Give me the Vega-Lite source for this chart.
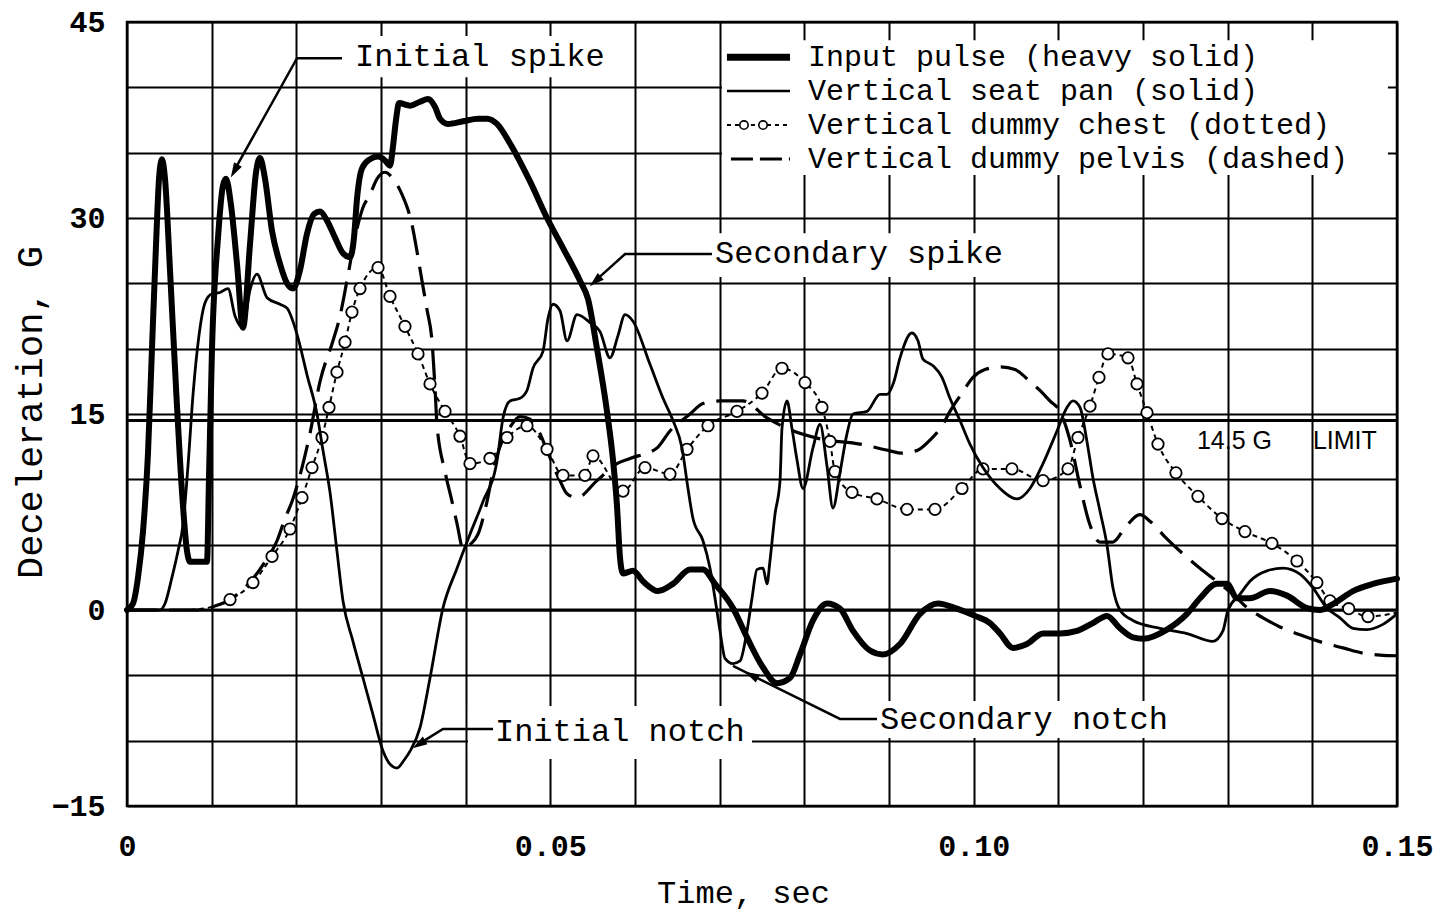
{
"$schema": "https://vega.github.io/schema/vega-lite/v6.json",
"width": 1270,
"height": 784,
"autosize": {"type": "none"},
"padding": {"left": 127, "top": 22, "right": 55, "bottom": 110},
"background": "white",
"config": {
  "view": {"stroke": "black", "strokeWidth": 2.5},
  "font": "Liberation Mono",
  "axis": {"grid": true, "gridColor": "black", "gridWidth": 2, "gridOpacity": 1, "domain": false, "ticks": false, "tickSize": 0,
    "labelFont": "Liberation Mono", "labelFontSize": 30, "labelFontWeight": "bold", "labelColor": "black",
    "titleFont": "Liberation Mono", "titleFontWeight": "normal", "titleColor": "black",
    "labelOverlap": false, "labelBound": false, "labelFlush": false}
},
"datasets": {
  "pulse": [{"t":0,"g":0},{"t":0.00071,"g":0.5},{"t":0.0013,"g":2.5},{"t":0.00189,"g":6},{"t":0.00248,"g":12},{"t":0.00295,"g":20},{"t":0.00343,"g":28},{"t":0.00378,"g":33},{"t":0.00413,"g":34.5},{"t":0.00449,"g":33},{"t":0.00508,"g":26},{"t":0.00579,"g":17},{"t":0.0065,"g":9},{"t":0.00709,"g":4.5},{"t":0.00744,"g":3.7},{"t":0.00945,"g":3.7},{"t":0.00968,"g":10},{"t":0.01004,"g":20},{"t":0.01075,"g":28.5},{"t":0.01134,"g":32.5},{"t":0.01169,"g":33},{"t":0.01228,"g":31},{"t":0.01299,"g":26.5},{"t":0.0137,"g":21.6},{"t":0.01453,"g":28},{"t":0.01524,"g":33.5},{"t":0.01571,"g":34.6},{"t":0.0163,"g":33},{"t":0.01713,"g":29},{"t":0.01807,"g":26.5},{"t":0.0189,"g":25},{"t":0.01961,"g":24.6},{"t":0.02043,"g":26},{"t":0.02126,"g":28.8},{"t":0.02209,"g":30.3},{"t":0.0228,"g":30.5},{"t":0.02362,"g":29.8},{"t":0.02457,"g":28.5},{"t":0.02551,"g":27.3},{"t":0.02634,"g":27},{"t":0.02681,"g":28.5},{"t":0.02717,"g":31.5},{"t":0.02776,"g":33.8},{"t":0.0287,"g":34.5},{"t":0.02965,"g":34.7},{"t":0.03047,"g":34.4},{"t":0.03106,"g":34},{"t":0.03142,"g":35.5},{"t":0.03177,"g":37.5},{"t":0.03213,"g":38.8},{"t":0.03343,"g":38.6},{"t":0.03461,"g":38.9},{"t":0.03555,"g":39.1},{"t":0.03638,"g":38.5},{"t":0.03697,"g":37.6},{"t":0.03791,"g":37.2},{"t":0.03969,"g":37.4},{"t":0.04146,"g":37.6},{"t":0.04252,"g":37.6},{"t":0.0437,"g":37.2},{"t":0.04524,"g":35.7},{"t":0.0476,"g":32.8},{"t":0.04961,"g":30},{"t":0.0515,"g":27.7},{"t":0.0535,"g":25.2},{"t":0.05445,"g":23.8},{"t":0.05551,"g":20},{"t":0.05669,"g":15.2},{"t":0.0574,"g":11.5},{"t":0.05787,"g":8},{"t":0.05823,"g":4},{"t":0.05858,"g":2.8},{"t":0.05976,"g":3},{"t":0.06094,"g":2.2},{"t":0.06272,"g":1.45},{"t":0.06449,"g":2},{"t":0.0665,"g":3.1},{"t":0.06803,"g":3.1},{"t":0.06945,"g":2},{"t":0.07157,"g":0.15},{"t":0.07323,"g":-2.1},{"t":0.07512,"g":-4.4},{"t":0.07677,"g":-5.6},{"t":0.07831,"g":-5.2},{"t":0.07949,"g":-3.4},{"t":0.08102,"g":-0.8},{"t":0.08268,"g":0.5},{"t":0.08421,"g":0.1},{"t":0.08575,"g":-1.6},{"t":0.08775,"g":-3.1},{"t":0.08929,"g":-3.4},{"t":0.0913,"g":-2.6},{"t":0.09366,"g":-0.3},{"t":0.09578,"g":0.5},{"t":0.09803,"g":0.1},{"t":0.10016,"g":-0.45},{"t":0.10193,"g":-1},{"t":0.10311,"g":-1.8},{"t":0.10464,"g":-2.9},{"t":0.1063,"g":-2.6},{"t":0.10819,"g":-1.8},{"t":0.11019,"g":-1.8},{"t":0.1122,"g":-1.6},{"t":0.11409,"g":-1},{"t":0.11574,"g":-0.45},{"t":0.11728,"g":-1.4},{"t":0.11881,"g":-2.1},{"t":0.12,"g":-2.2},{"t":0.12283,"g":-1.5},{"t":0.12519,"g":-0.3},{"t":0.12673,"g":0.9},{"t":0.12874,"g":2},{"t":0.12992,"g":2},{"t":0.1311,"g":0.9},{"t":0.13263,"g":0.9},{"t":0.135,"g":1.45},{"t":0.13701,"g":1.1},{"t":0.13937,"g":0.15},{"t":0.1409,"g":0},{"t":0.14243,"g":0.45},{"t":0.1448,"g":1.45},{"t":0.14716,"g":2},{"t":0.15,"g":2.4}],
  "seat": [{"t":0,"g":0},{"t":0.0039,"g":0},{"t":0.00449,"g":0.5},{"t":0.00531,"g":2.5},{"t":0.00602,"g":4.5},{"t":0.00661,"g":6.5},{"t":0.0072,"g":11},{"t":0.0078,"g":16.5},{"t":0.0085,"g":21},{"t":0.00921,"g":23.5},{"t":0.01004,"g":24.2},{"t":0.01098,"g":24.3},{"t":0.01193,"g":24.6},{"t":0.01276,"g":22.5},{"t":0.0137,"g":21.6},{"t":0.01453,"g":24.5},{"t":0.01535,"g":25.7},{"t":0.01654,"g":23.9},{"t":0.01807,"g":23.4},{"t":0.0189,"g":23.1},{"t":0.02008,"g":21.1},{"t":0.02126,"g":18},{"t":0.02244,"g":15},{"t":0.02315,"g":12.2},{"t":0.02398,"g":9},{"t":0.0248,"g":4.5},{"t":0.02551,"g":0.7},{"t":0.02669,"g":-2.4},{"t":0.02787,"g":-5.2},{"t":0.02905,"g":-8},{"t":0.03024,"g":-10.8},{"t":0.03106,"g":-11.8},{"t":0.03189,"g":-12.1},{"t":0.03272,"g":-11.5},{"t":0.03343,"g":-10.8},{"t":0.03461,"g":-9},{"t":0.03579,"g":-5.2},{"t":0.03732,"g":0.15},{"t":0.03898,"g":3.2},{"t":0.04051,"g":5.8},{"t":0.04205,"g":8.3},{"t":0.0437,"g":11.4},{"t":0.04441,"g":14.7},{"t":0.04524,"g":16},{"t":0.04642,"g":16.2},{"t":0.04724,"g":16.8},{"t":0.04795,"g":18.5},{"t":0.04913,"g":19.8},{"t":0.04972,"g":22.3},{"t":0.05031,"g":23.4},{"t":0.05114,"g":22.9},{"t":0.05197,"g":20.6},{"t":0.05315,"g":22.6},{"t":0.05468,"g":22},{"t":0.05587,"g":21.3},{"t":0.05705,"g":19.3},{"t":0.05799,"g":21},{"t":0.05882,"g":22.6},{"t":0.05976,"g":22.1},{"t":0.06177,"g":18.8},{"t":0.06331,"g":16.2},{"t":0.06449,"g":14.5},{"t":0.06555,"g":12.4},{"t":0.06626,"g":9.3},{"t":0.06685,"g":7},{"t":0.06803,"g":5.3},{"t":0.06886,"g":3.2},{"t":0.06945,"g":0.9},{"t":0.07004,"g":-1.6},{"t":0.07063,"g":-3.7},{"t":0.07157,"g":-4.1},{"t":0.0724,"g":-3.9},{"t":0.07323,"g":-1.6},{"t":0.07382,"g":0.9},{"t":0.07441,"g":3.1},{"t":0.07512,"g":3.2},{"t":0.07559,"g":2},{"t":0.07594,"g":3.75},{"t":0.07653,"g":7.3},{"t":0.07713,"g":9.9},{"t":0.07736,"g":13.9},{"t":0.07795,"g":16},{"t":0.07854,"g":13.9},{"t":0.07913,"g":11.5},{"t":0.07984,"g":9.3},{"t":0.08102,"g":12.4},{"t":0.08185,"g":14.2},{"t":0.08268,"g":11},{"t":0.08338,"g":7.8},{"t":0.08421,"g":10.5},{"t":0.08504,"g":13.5},{"t":0.08575,"g":15},{"t":0.0874,"g":15.2},{"t":0.08894,"g":16.5},{"t":0.08976,"g":16.5},{"t":0.09059,"g":17.5},{"t":0.0913,"g":19.3},{"t":0.09271,"g":21.2},{"t":0.09342,"g":20.6},{"t":0.09401,"g":19.2},{"t":0.09519,"g":18.7},{"t":0.09626,"g":17.8},{"t":0.0972,"g":16.2},{"t":0.09838,"g":14.5},{"t":0.09956,"g":12.7},{"t":0.1011,"g":10.9},{"t":0.10311,"g":9.3},{"t":0.10512,"g":8.5},{"t":0.10665,"g":9.3},{"t":0.10819,"g":11.2},{"t":0.10984,"g":13.7},{"t":0.11102,"g":15.5},{"t":0.11173,"g":16},{"t":0.11256,"g":15.5},{"t":0.11338,"g":12.9},{"t":0.11409,"g":10.1},{"t":0.11491,"g":7.6},{"t":0.11574,"g":5},{"t":0.11645,"g":1.7},{"t":0.11728,"g":0},{"t":0.11881,"g":-0.8},{"t":0.122,"g":-1.4},{"t":0.12519,"g":-1.8},{"t":0.12826,"g":-2.4},{"t":0.12944,"g":-1.6},{"t":0.13004,"g":0},{"t":0.13145,"g":1.2},{"t":0.13263,"g":2.2},{"t":0.13464,"g":3},{"t":0.13653,"g":3.2},{"t":0.13854,"g":2.75},{"t":0.14007,"g":1.7},{"t":0.14173,"g":0.15},{"t":0.14326,"g":-0.6},{"t":0.1448,"g":-1.4},{"t":0.14645,"g":-1.5},{"t":0.14834,"g":-1.1},{"t":0.15,"g":-0.3}],
  "chest": [{"t":0,"g":0},{"t":0.00685,"g":0},{"t":0.0098,"g":0.2},{"t":0.01217,"g":0.8},{"t":0.01488,"g":2.1},{"t":0.01713,"g":4.1},{"t":0.01925,"g":6.2},{"t":0.02067,"g":8.6},{"t":0.02185,"g":10.9},{"t":0.02303,"g":13.2},{"t":0.02386,"g":15.5},{"t":0.0248,"g":18.2},{"t":0.02575,"g":20.5},{"t":0.02657,"g":22.8},{"t":0.02752,"g":24.6},{"t":0.02965,"g":26.2},{"t":0.03106,"g":24},{"t":0.03283,"g":21.7},{"t":0.03437,"g":19.6},{"t":0.03579,"g":17.3},{"t":0.03756,"g":15.2},{"t":0.03933,"g":13.3},{"t":0.04051,"g":11.2},{"t":0.04287,"g":11.6},{"t":0.04488,"g":13.2},{"t":0.04724,"g":14.1},{"t":0.04961,"g":12.3},{"t":0.0515,"g":10.3},{"t":0.05409,"g":10.3},{"t":0.05504,"g":11.8},{"t":0.05858,"g":9.1},{"t":0.06118,"g":10.9},{"t":0.06413,"g":10.4},{"t":0.06614,"g":12.3},{"t":0.06862,"g":14.1},{"t":0.07204,"g":15.2},{"t":0.075,"g":16.6},{"t":0.07736,"g":18.5},{"t":0.08008,"g":17.4},{"t":0.08208,"g":15.5},{"t":0.08303,"g":12.9},{"t":0.08362,"g":10.6},{"t":0.08563,"g":9},{"t":0.08858,"g":8.5},{"t":0.09212,"g":7.7},{"t":0.09543,"g":7.7},{"t":0.09862,"g":9.3},{"t":0.1011,"g":10.8},{"t":0.10452,"g":10.8},{"t":0.10819,"g":9.9},{"t":0.11114,"g":10.8},{"t":0.11232,"g":13.2},{"t":0.11374,"g":15.6},{"t":0.1148,"g":17.8},{"t":0.11586,"g":19.6},{"t":0.11823,"g":19.3},{"t":0.11929,"g":17.3},{"t":0.12047,"g":15.1},{"t":0.12177,"g":12.7},{"t":0.12389,"g":10.5},{"t":0.12649,"g":8.7},{"t":0.12933,"g":7},{"t":0.13204,"g":6},{"t":0.13523,"g":5.1},{"t":0.13818,"g":3.75},{"t":0.14054,"g":2.1},{"t":0.14208,"g":0.7},{"t":0.1443,"g":0.1},{"t":0.14657,"g":-0.5},{"t":0.15,"g":-0.2}],
  "pelvis": [{"t":0,"g":0},{"t":0.00862,"g":0},{"t":0.01039,"g":0.3},{"t":0.01217,"g":0.8},{"t":0.01358,"g":1.5},{"t":0.01512,"g":2.6},{"t":0.0163,"g":3.7},{"t":0.01772,"g":5.3},{"t":0.01866,"g":7},{"t":0.01949,"g":8.3},{"t":0.02067,"g":10.9},{"t":0.02161,"g":13.5},{"t":0.0228,"g":17.5},{"t":0.02433,"g":20.6},{"t":0.02516,"g":22.5},{"t":0.02598,"g":25.2},{"t":0.02693,"g":28.5},{"t":0.02787,"g":30.8},{"t":0.0287,"g":31.8},{"t":0.02953,"g":33},{"t":0.03047,"g":33.5},{"t":0.03142,"g":33},{"t":0.03248,"g":31.8},{"t":0.03366,"g":29.5},{"t":0.03437,"g":27},{"t":0.03484,"g":25.2},{"t":0.03543,"g":23},{"t":0.03602,"g":20.6},{"t":0.03638,"g":17},{"t":0.03661,"g":14.2},{"t":0.03756,"g":10.6},{"t":0.03839,"g":8.3},{"t":0.03898,"g":6.6},{"t":0.03969,"g":4.7},{"t":0.04051,"g":5},{"t":0.04146,"g":5.8},{"t":0.04252,"g":8.3},{"t":0.04323,"g":10.6},{"t":0.04405,"g":12.5},{"t":0.04524,"g":14},{"t":0.04642,"g":14.8},{"t":0.0476,"g":14.6},{"t":0.04878,"g":13.5},{"t":0.04961,"g":12.2},{"t":0.05114,"g":9.9},{"t":0.05197,"g":8.9},{"t":0.05315,"g":8.6},{"t":0.05551,"g":9.9},{"t":0.05787,"g":11.2},{"t":0.05941,"g":11.6},{"t":0.0626,"g":12.4},{"t":0.06413,"g":13.7},{"t":0.0665,"g":15},{"t":0.06803,"g":15.8},{"t":0.07004,"g":16},{"t":0.07275,"g":16},{"t":0.07559,"g":14.7},{"t":0.07831,"g":13.8},{"t":0.08185,"g":13.1},{"t":0.08657,"g":12.7},{"t":0.09,"g":12.2},{"t":0.09153,"g":12},{"t":0.0933,"g":12.2},{"t":0.09484,"g":13},{"t":0.09637,"g":14.2},{"t":0.0972,"g":15.2},{"t":0.09862,"g":16.6},{"t":0.09992,"g":17.8},{"t":0.10133,"g":18.4},{"t":0.10311,"g":18.6},{"t":0.10488,"g":18.4},{"t":0.1063,"g":17.7},{"t":0.10783,"g":16.8},{"t":0.10901,"g":16},{"t":0.11019,"g":15.2},{"t":0.11137,"g":13},{"t":0.11256,"g":9.5},{"t":0.11374,"g":6.5},{"t":0.11491,"g":5.2},{"t":0.11645,"g":5.2},{"t":0.11787,"g":6.3},{"t":0.11964,"g":7.3},{"t":0.12082,"g":6.8},{"t":0.12259,"g":5.6},{"t":0.12472,"g":4.3},{"t":0.12673,"g":3.2},{"t":0.1285,"g":2.3},{"t":0.13063,"g":1.2},{"t":0.13263,"g":0},{"t":0.13417,"g":-0.6},{"t":0.13618,"g":-1.3},{"t":0.13854,"g":-1.9},{"t":0.14125,"g":-2.5},{"t":0.14362,"g":-2.9},{"t":0.14598,"g":-3.3},{"t":0.14799,"g":-3.45},{"t":0.15,"g":-3.5}],
  "hlines": [{"name":"zero","t":0,"g":0},{"name":"zero","t":0.15,"g":0},{"name":"limit","t":0,"g":14.5},{"name":"limit","t":0.15,"g":14.5}],
  "boxes": [{"t":0.02575,"t2":0.05728,"g":43.92,"g2":40.78},{"t":0.06862,"t2":0.10429,"g":28.84,"g2":25.48},{"t":0.04027,"t2":0.07382,"g":-7.35,"g2":-11.4},{"t":0.08811,"t2":0.12378,"g":-6.96,"g2":-9.79},{"t":0.07027,"t2":0.14893,"g":43.61,"g2":33.3}],
  "leaders": [{"id":1,"k":0,"t":0.02539,"g":42.23},{"id":1,"k":1,"t":0.02008,"g":42.23},{"id":1,"k":2,"t":0.01264,"g":33.6},{"id":2,"k":0,"t":0.06909,"g":27.24},{"id":2,"k":1,"t":0.05882,"g":27.24},{"id":2,"k":2,"t":0.05527,"g":25.17},{"id":3,"k":0,"t":0.04323,"g":-9.1},{"id":3,"k":1,"t":0.03732,"g":-9.1},{"id":3,"k":2,"t":0.03449,"g":-10.25},{"id":4,"k":0,"t":0.08858,"g":-8.34},{"id":4,"k":1,"t":0.08421,"g":-8.34},{"id":4,"k":2,"t":0.07157,"g":-4.28}],
  "notes": [{"t":0.02693,"g":42.39,"label":"Initial spike"},{"t":0.06945,"g":27.31,"label":"Secondary spike"},{"t":0.04346,"g":-9.26,"label":"Initial notch"},{"t":0.08893,"g":-8.34,"label":"Secondary notch"}],
  "legendText": [{"t":0.08043,"g":42.31,"label":"Input pulse (heavy solid)"},{"t":0.08043,"g":39.71,"label":"Vertical seat pan (solid)"},{"t":0.08043,"g":37.11,"label":"Vertical dummy chest (dotted)"},{"t":0.08043,"g":34.51,"label":"Vertical dummy pelvis (dashed)"}]
},
"encoding": {
  "x": {"field": "t", "type": "quantitative", "scale": {"domain": [0, 0.15], "nice": false, "zero": false},
    "axis": {"values": [0,0.01,0.02,0.03,0.04,0.05,0.06,0.07,0.08,0.09,0.1,0.11,0.12,0.13,0.14,0.15],
      "labelExpr": "datum.value == 0 ? '0' : (abs(datum.value * 20 - round(datum.value * 20)) < 0.0001 ? format(datum.value, '.2f') : '')",
      "labelPadding": 25, "title": "Time, sec", "titleFontSize": 32, "titleX": 616, "titleY": 96, "titleBaseline": "alphabetic", "titleAlign": "center"}},
  "y": {"field": "g", "type": "quantitative", "scale": {"domain": [-15, 45], "nice": false, "zero": false},
    "axis": {"values": [-15,-10,-5,0,5,10,15,20,25,30,35,40,45],
      "labelExpr": "datum.value % 15 == 0 ? datum.label : ''",
      "labelPadding": 22, "title": "Deceleration, G", "titleFontSize": 37, "titleX": -97, "titleY": 390, "titleAngle": -90, "titleAlign": "center", "titleBaseline": "middle"}}
},
"layer": [
  {"data": {"name": "boxes"}, "mark": {"type": "rect", "color": "white", "opacity": 1}, "encoding": {"x2": {"field": "t2"}, "y2": {"field": "g2"}}},
  {"data": {"name": "hlines"}, "mark": {"type": "line", "color": "black", "strokeWidth": 3}, "encoding": {"detail": {"field": "name"}}},
  {"data": {"name": "pelvis"}, "mark": {"type": "line", "color": "black", "strokeWidth": 3.2, "strokeDash": [30, 12], "interpolate": "monotone"}, "encoding": {}},
  {"data": {"name": "chest"}, "mark": {"type": "line", "color": "black", "strokeWidth": 2, "strokeDash": [5, 4], "interpolate": "monotone"}, "encoding": {}},
  {"data": {"name": "chest"}, "transform": [{"filter": "datum.t > 0.011 && datum.t < 0.1495"}], "mark": {"type": "point", "shape": "circle", "size": 130, "filled": true, "fill": "white", "stroke": "black", "strokeWidth": 1.8, "opacity": 1}},
  {"data": {"name": "seat"}, "mark": {"type": "line", "color": "black", "strokeWidth": 2.8, "interpolate": "monotone", "strokeJoin": "round"}, "encoding": {}},
  {"data": {"name": "pulse"}, "mark": {"type": "line", "color": "black", "strokeWidth": 6, "interpolate": "monotone", "strokeJoin": "round", "strokeCap": "round"}, "encoding": {}},
  {"data": {"name": "leaders"}, "mark": {"type": "line", "color": "black", "strokeWidth": 2.5}, "encoding": {"detail": {"field": "id"}, "order": {"field": "k"}}},
  {"data": {"values": [{"t": 0.01268, "g": 33.6}]}, "mark": {"type": "point", "shape": "M0,-1L-0.6,1L0.6,1Z", "size": 220, "filled": true, "color": "black", "opacity": 1, "angle": 209}},
  {"data": {"values": [{"t": 0.0553, "g": 25.15}]}, "mark": {"type": "point", "shape": "M0,-1L-0.6,1L0.6,1Z", "size": 220, "filled": true, "color": "black", "opacity": 1, "angle": 228}},
  {"data": {"values": [{"t": 0.03447, "g": -10.28}]}, "mark": {"type": "point", "shape": "M0,-1L-0.6,1L0.6,1Z", "size": 220, "filled": true, "color": "black", "opacity": 1, "angle": 238}},
  {"data": {"values": [{"t": 0.07373, "g": -4.99}]}, "mark": {"type": "point", "shape": "M0,-1L-0.6,1L0.6,1Z", "size": 220, "filled": true, "color": "black", "opacity": 1, "angle": 297}},
  {"data": {"name": "notes"}, "mark": {"type": "text", "align": "left", "baseline": "middle", "font": "Liberation Mono", "fontSize": 32, "color": "black"}, "encoding": {"text": {"field": "label"}}},
  {"data": {"name": "legendText"}, "mark": {"type": "text", "align": "left", "baseline": "middle", "font": "Liberation Mono", "fontSize": 30, "color": "black"}, "encoding": {"text": {"field": "label"}}},
  {"data": {"values": [{"t": 0.07086, "g": 42.31}, {"t": 0.07831, "g": 42.31}]}, "mark": {"type": "line", "color": "black", "strokeWidth": 7}, "encoding": {}},
  {"data": {"values": [{"t": 0.07086, "g": 39.71}, {"t": 0.07831, "g": 39.71}]}, "mark": {"type": "line", "color": "black", "strokeWidth": 2.5}, "encoding": {}},
  {"data": {"values": [{"t": 0.07086, "g": 37.11}, {"t": 0.07831, "g": 37.11}]}, "mark": {"type": "line", "color": "black", "strokeWidth": 2, "strokeDash": [4, 4]}, "encoding": {}},
  {"data": {"values": [{"t": 0.07287, "g": 37.11}, {"t": 0.07512, "g": 37.11}]}, "mark": {"type": "point", "shape": "circle", "size": 70, "filled": true, "fill": "white", "stroke": "black", "strokeWidth": 1.6, "opacity": 1}},
  {"data": {"values": [{"t": 0.07133, "g": 34.51}, {"t": 0.07831, "g": 34.51}]}, "mark": {"type": "line", "color": "black", "strokeWidth": 3, "strokeDash": [22, 7]}, "encoding": {}},
  {"data": {"values": [{"t": 0.12637, "g": 12.93, "label": "14.5 G"}, {"t": 0.14007, "g": 12.93, "label": "LIMIT"}]}, "mark": {"type": "text", "align": "left", "baseline": "middle", "font": "Liberation Sans", "fontSize": 25, "color": "black"}, "encoding": {"text": {"field": "label"}}}
]
}
